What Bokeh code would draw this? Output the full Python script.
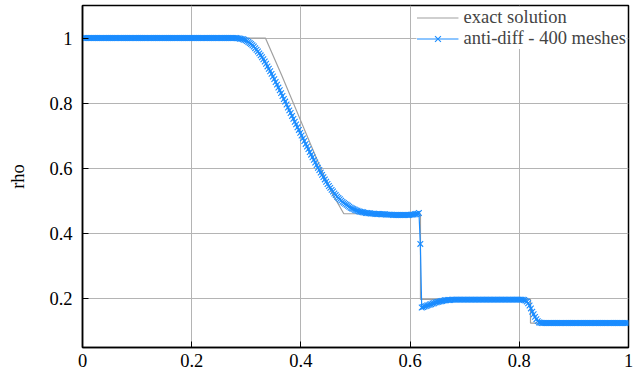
import numpy as np
from bokeh.plotting import figure
from bokeh.models import Range1d, FixedTicker, Legend, LegendItem
from bokeh.embed import file_html
from bokeh.resources import INLINE

# ---------------- data ----------------
x_ticks = [0, 0.2, 0.4, 0.6, 0.8, 1.0]
x_tick_labels = ["0", "0.2", "0.4", "0.6", "0.8", "1"]
y_ticks = [0.2, 0.4, 0.6, 0.8, 1.0]
y_tick_labels = ["0.2", "0.4", "0.6", "0.8", "1"]

# exact solution (piecewise)
exact_x = [0.0, 0.335, 0.365, 0.40, 0.43, 0.455, 0.4786, 0.619, 0.619, 0.8205, 0.8205, 1.0]
exact_rho = [1.0, 1.0, 0.885, 0.745, 0.625, 0.53, 0.4606, 0.4606, 0.198, 0.198, 0.125, 0.125]

# numerical solution, 400 cells
n_cells = 400
num_left = [1.0] * 112
num_rarefaction = [
    1.000, 0.9995, 0.999, 0.998, 0.9975, 0.9965, 0.995, 0.993, 0.991, 0.988,
    0.985, 0.982, 0.978, 0.974, 0.969, 0.964, 0.959, 0.953, 0.947, 0.941,
    0.935, 0.928, 0.921, 0.913, 0.906, 0.898, 0.890, 0.882, 0.874, 0.865,
    0.857, 0.848, 0.840, 0.831, 0.822, 0.813, 0.805, 0.796, 0.787, 0.778,
    0.770, 0.761, 0.752, 0.743, 0.735, 0.726, 0.718, 0.709, 0.701, 0.692,
    0.684, 0.675, 0.667, 0.659, 0.650, 0.642, 0.634, 0.626, 0.618, 0.610,
    0.602, 0.595, 0.587, 0.580, 0.573, 0.566, 0.559, 0.552, 0.546, 0.540,
    0.534, 0.529, 0.523, 0.518, 0.513, 0.509, 0.505, 0.501, 0.497, 0.494,
    0.491, 0.488, 0.485, 0.482, 0.479, 0.477, 0.475, 0.473, 0.471, 0.470,
    0.468, 0.467, 0.466, 0.465, 0.464, 0.463, 0.463, 0.462, 0.462, 0.461,
    0.461, 0.461, 0.460, 0.460,
]
num_plateau = [
    0.460, 0.460, 0.459, 0.459, 0.459, 0.459, 0.458, 0.458,
    0.458, 0.458, 0.458, 0.457, 0.457, 0.457, 0.457, 0.457,
    0.457, 0.457, 0.457, 0.457, 0.457, 0.457, 0.457, 0.457,
    0.458, 0.458, 0.458, 0.459, 0.460, 0.461,
]
num_contact = [0.463, 0.368, 0.173]
num_after_contact = [
    0.174, 0.176, 0.177, 0.179, 0.180, 0.182, 0.183, 0.185, 0.186, 0.188,
    0.189, 0.190, 0.191, 0.192, 0.193, 0.194, 0.195, 0.195, 0.196, 0.196,
    0.196, 0.197,
]
num_mid = [0.197] * 52
num_shock = [0.196, 0.194, 0.191, 0.186, 0.179, 0.170, 0.160, 0.152, 0.144,
             0.137, 0.131, 0.127, 0.126, 0.1255]
num_right = [0.125] * 63

num_rho = (num_left + num_rarefaction + num_plateau + num_contact +
           num_after_contact + num_mid + num_shock + num_right)
assert len(num_rho) == n_cells
num_x = (np.arange(n_cells) + 0.5) / n_cells

# ---------------- figure ----------------
FONT = "'Liberation Serif', 'Times New Roman', serif"
FS = "18.5px"
BLUE = "#1A8CFF"
GRAY = "#a0a0a0"

p = figure(width=636, height=375,
           x_range=Range1d(0, 1), y_range=Range1d(0.05, 1.1),
           output_backend="svg", toolbar_location=None,
           min_border_left=82, min_border_right=8,
           min_border_top=5, min_border_bottom=28)
p.background_fill_color = "white"
p.border_fill_color = "white"
p.outline_line_color = "black"
p.outline_line_width = 1.5

xax = p.below[0]
yax = p.left[0]
xax.ticker = FixedTicker(ticks=x_ticks)
yax.ticker = FixedTicker(ticks=y_ticks)
xax.major_label_overrides = {t: l for t, l in zip(x_ticks, x_tick_labels)}
yax.major_label_overrides = {t: l for t, l in zip(y_ticks, y_tick_labels)}

for ax in (xax, yax):
    ax.axis_line_color = "black"
    ax.axis_line_width = 1.5
    ax.major_tick_in = 6
    ax.major_tick_out = 0
    ax.major_tick_line_color = "black"
    ax.minor_tick_line_color = None
    ax.major_label_text_font = FONT
    ax.major_label_text_font_size = FS
    ax.major_label_text_color = "black"
xax.major_label_standoff = 6
yax.major_label_standoff = 10
yax.axis_label = "rho"
yax.axis_label_text_font = FONT
yax.axis_label_text_font_size = FS
yax.axis_label_text_font_style = "normal"
yax.axis_label_text_color = "black"
yax.axis_label_standoff = 18

p.xgrid.ticker = FixedTicker(ticks=x_ticks)
p.ygrid.ticker = FixedTicker(ticks=y_ticks)
p.grid.grid_line_color = "#b4b4b4"
p.grid.grid_line_width = 1

r_exact = p.line(exact_x, exact_rho, line_color=GRAY, line_width=1.2)
r_num_line = p.line(num_x, num_rho, line_color=BLUE, line_width=1.2)
r_num_mk = p.scatter(num_x, num_rho, marker="x", size=8, line_color=BLUE, line_width=1.1)

legend = Legend(items=[
    LegendItem(label="exact solution", renderers=[r_exact]),
    LegendItem(label="anti-diff - 400 meshes", renderers=[r_num_line, r_num_mk]),
], location="top_right")
legend.background_fill_color = "white"
legend.background_fill_alpha = 1
legend.border_line_color = None
legend.label_text_font = FONT
legend.label_text_font_size = FS
legend.glyph_width = 42
legend.label_height = 21
legend.glyph_height = 21
legend.spacing = 0
legend.padding = 4
legend.margin = 2
p.add_layout(legend)

open("out.html", "w").write(file_html(p, INLINE))
